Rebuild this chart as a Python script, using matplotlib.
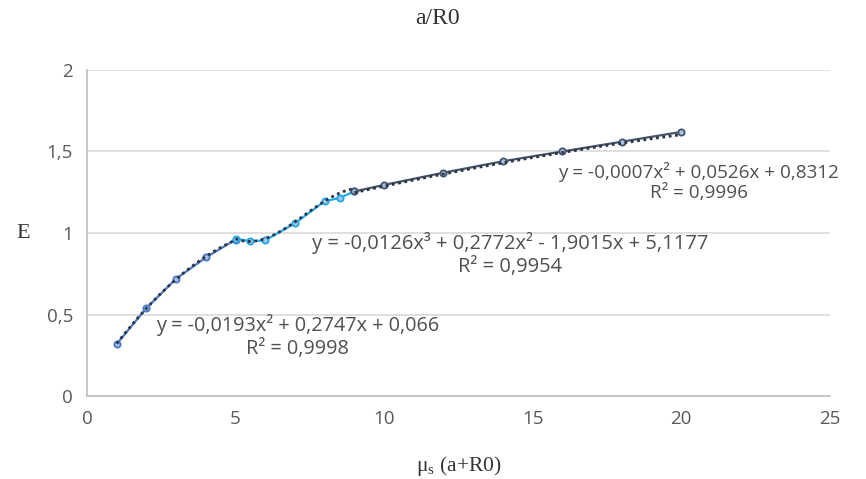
import numpy as np
import matplotlib
matplotlib.use("Agg")
import matplotlib.pyplot as plt

# data, three segments
x1 = [1, 2, 3, 4, 5]
y1 = [0.32, 0.54, 0.72, 0.85, 0.96]
x2 = [5, 5.5, 6, 7, 8, 8.5, 9]
y2 = [0.965, 0.95, 0.955, 1.06, 1.195, 1.215, 1.255]
x3 = [9, 10, 12, 14, 16, 18, 20]
y3 = [1.255, 1.295, 1.37, 1.44, 1.50, 1.56, 1.62]

# trendline coefficients as printed on the chart
coef1 = [-0.0193, 0.2747, 0.066]
coef2 = [-0.0126, 0.2772, -1.9015, 5.1177]
coef3 = [-0.0007, 0.0526, 0.8312]
eq1 = "y = -0,0193x² + 0,2747x + 0,066\nR² = 0,9998"
eq2 = "y = -0,0126x³ + 0,2772x² - 1,9015x + 5,1177\nR² = 0,9954"
eq3 = "y = -0,0007x² + 0,0526x + 0,8312\nR² = 0,9996"

xticks = [0, 5, 10, 15, 20, 25]
yticks = [0, 0.5, 1, 1.5, 2]
ytick_labels = ["0", "0,5", "1", "1,5", "2"]

fig = plt.figure(figsize=(8.66, 4.79), dpi=100)
ax = fig.add_axes([0.1005, 0.173, 0.8575, 0.681])

seg_colors = ["#4a78c8", "#1fa8ea", "#44556e"]
for xs, ys, coef, col in [(x1, y1, coef1, seg_colors[0]),
                          (x2, y2, coef2, seg_colors[1]),
                          (x3, y3, coef3, seg_colors[2])]:
    ax.plot(xs, ys, color=col, linewidth=1.6, marker="o", markersize=4.5,
            markerfacecolor="#a9c2e4", markeredgecolor=col, markeredgewidth=1.3, zorder=3)
    xf = np.linspace(xs[0], xs[-1], 100)
    ax.plot(xf, np.polyval(coef, xf), color="#2c3545", linewidth=2.0,
            linestyle=(0, (1, 1.3)), zorder=4)

eq_font = dict(color="#505050", family="Open Sans",
               ha="center", va="center", multialignment="center", linespacing=1.2)
ax.text(7.1, 0.368, eq1, fontsize=14.3, **eq_font)
ax.text(14.23, 0.871, eq2, fontsize=14.5, **eq_font)
ax.text(20.6, 1.313, eq3, fontsize=13.6, clip_on=False, **eq_font)

ax.set_xlim(0, 25)
ax.set_ylim(0, 2)
ax.set_xticks(xticks)
ax.set_yticks(yticks)
ax.set_yticklabels(ytick_labels)
ax.tick_params(length=0, labelsize=13.5, labelcolor="#595959", pad=10)
for lab in ax.get_xticklabels() + ax.get_yticklabels():
    lab.set_family("Open Sans")
ax.grid(axis="y", color="#d9d9d9", linewidth=1.2)
ax.set_axisbelow(True)
for s in ["top", "right"]:
    ax.spines[s].set_visible(False)
for s in ["left", "bottom"]:
    ax.spines[s].set_color("#bfbfbf")
    ax.spines[s].set_linewidth(1.2)

serif = "Liberation Serif"
fig.text(0.505, 0.962, "a/R0", family=serif, fontsize=17, ha="center", va="center", color="#333333")
fig.text(0.53, 0.028, r"μ$_\mathregular{s}$ (a+R0)", family=serif, fontsize=15.5,
         ha="center", va="center", color="#333333")
fig.text(0.027, 0.513, "E", family=serif, fontsize=16, ha="center", va="center", color="#333333")

fig.savefig("out.png", dpi=100)
